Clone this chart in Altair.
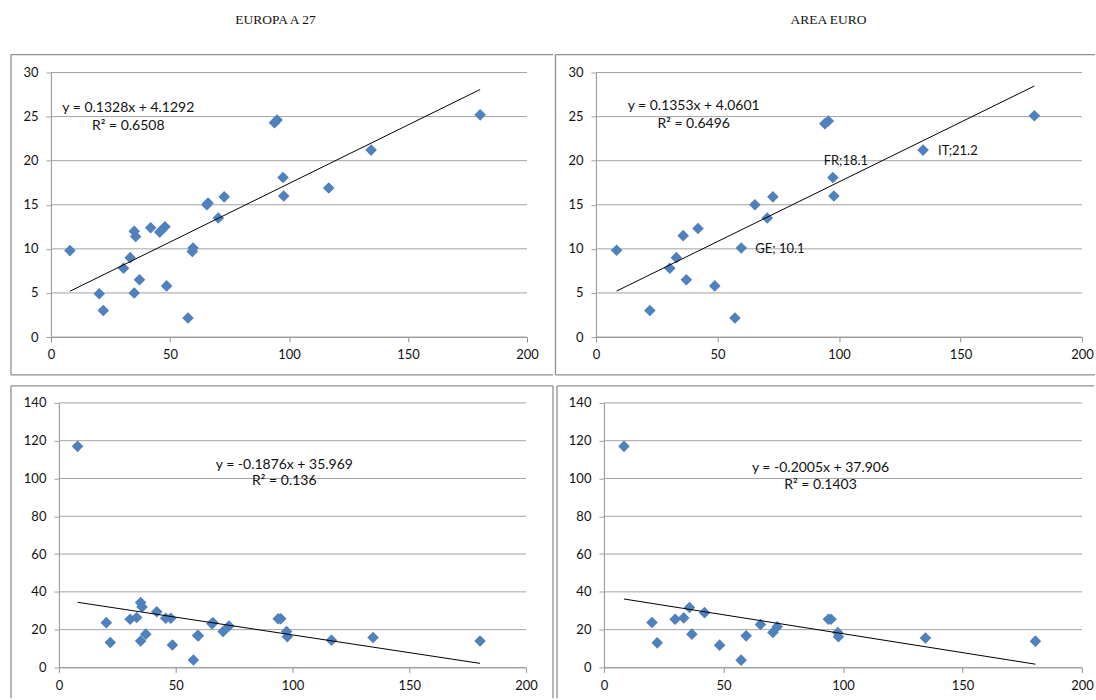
import altair as alt
import pandas as pd

# ---- EU-27: debt (x) against two indicators (y) ----
eu27_x = [8.0, 20.3, 22.0, 30.5, 33.3, 35.0, 35.6, 35.0, 37.2, 41.9, 45.7, 47.9, 48.6, 57.6,
          59.7, 59.4, 65.5, 66.0, 70.3, 72.8, 93.9, 95.0, 97.5, 97.8, 116.7, 134.5, 180.3]
eu27_top_y = [9.8, 4.9, 3.0, 7.8, 9.0, 12.0, 11.4, 5.0, 6.5, 12.4, 11.9, 12.5, 5.8, 2.15,
              10.1, 9.7, 15.0, 15.2, 13.5, 15.9, 24.3, 24.6, 18.1, 16.0, 16.9, 21.2, 25.2]
eu27_bot_y = [117.0, 23.7, 13.2, 25.5, 26.4, 34.3, 32.0, 14.0, 17.6, 29.5, 26.0, 26.0, 11.9, 3.9,
              16.7, 16.9, 23.2, 23.6, 19.0, 21.9, 25.8, 25.8, 19.0, 16.3, 14.4, 15.8, 14.0]

# ---- Euro area ----
ea_top_x = [8.5, 22.2, 30.4, 33.1, 35.9, 37.2, 42.0, 48.9, 57.2, 59.8, 65.4, 70.5, 72.8,
            94.2, 95.6, 97.5, 97.9, 134.6, 180.4]
ea_top_y = [9.85, 3.0, 7.8, 9.0, 11.5, 6.5, 12.3, 5.8, 2.15, 10.1, 15.0, 13.5, 15.9,
            24.2, 24.5, 18.1, 16.0, 21.2, 25.1]
ea_bot_x = [8.4, 20.1, 22.3, 29.8, 33.4, 35.8, 36.8, 42.1, 48.4, 57.4, 59.5, 65.5, 70.7, 72.5,
            93.9, 95.0, 97.8, 98.1, 134.5, 180.5]
ea_bot_y = [117.0, 23.8, 13.0, 25.5, 26.2, 31.7, 17.6, 29.0, 11.8, 3.85, 16.7, 22.7, 18.5, 21.5,
            25.5, 25.5, 18.5, 16.2, 15.6, 13.9]

# Linear trend lines (slope, intercept, R²) as printed on each panel
trend_eu27_top = (0.1328, 4.1292, 0.6508)
trend_ea_top = (0.1353, 4.0601, 0.6496)
trend_eu27_bot = (-0.1876, 35.969, 0.136)
trend_ea_bot = (-0.2005, 37.906, 0.1403)

# Country labels on the euro-area panel: (point index, prefix)
ea_top_labels = [(9, "GE; "), (15, "FR;"), (17, "IT;")]

titles = ["EUROPA A 27", "AREA EURO"]

BLUE = "#4F81BD"
GRID = "#a3a3a3"
FRAME = "#8f8f8f"
FONT = "Lato"


def frame_layer(left, top, right, bottom, sides):
    """Grey chart-area border drawn in pixel space around the plot."""
    one = alt.Data(values=[{"k": 0}])
    rule = dict(color=FRAME, strokeWidth=1.3)
    rules = []
    if "top" in sides:
        rules.append(alt.Chart(one).mark_rule(**rule).encode(
            x=alt.value(left), x2=alt.value(right), y=alt.value(top)))
    if "bottom" in sides:
        rules.append(alt.Chart(one).mark_rule(**rule).encode(
            x=alt.value(left), x2=alt.value(right), y=alt.value(bottom)))
    if "left" in sides:
        rules.append(alt.Chart(one).mark_rule(**rule).encode(
            x=alt.value(left), y=alt.value(top), y2=alt.value(bottom)))
    if "right" in sides:
        rules.append(alt.Chart(one).mark_rule(**rule).encode(
            x=alt.value(right), y=alt.value(top), y2=alt.value(bottom)))
    return rules


def panel(xs, ys, trend, y_max, y_step, width, height, eq_pos, frame, title=None,
          title_pos=None, labels=None, inset=0):
    slope, intercept, r2 = trend
    xsc = alt.Scale(domain=[0, 200], nice=False, zero=False, range=[inset, width])
    ysc = alt.Scale(domain=[0, y_max], nice=False)
    y_ticks = list(range(0, y_max + 1, y_step))
    xax = alt.Axis(values=[0, 50, 100, 150, 200], tickCount=10, title=None, grid=False,
                   tickSize=5, labelPadding=7, domainColor=FRAME, tickColor=FRAME,
                   labelFont=FONT, labelFontSize=13, labelColor="#111", labelFlush=False)
    yax = alt.Axis(values=y_ticks, tickCount=len(y_ticks) + 2, title=None, grid=False,
                   tickSize=5, labelPadding=8, domainColor=FRAME, tickColor=GRID,
                   labelFont=FONT, labelFontSize=13, labelColor="#111", offset=-inset)

    # horizontal gridlines spanning the x domain
    grid = alt.Chart(pd.DataFrame({"v": y_ticks})).mark_rule(
        color=GRID, strokeWidth=1).encode(
        y=alt.Y("v:Q", scale=ysc, axis=yax), x=alt.datum(0), x2=alt.datum(200))

    pts = pd.DataFrame({"x": xs, "y": ys})
    points = alt.Chart(pts).mark_point(shape="diamond", filled=True, size=135,
                                       color=BLUE, opacity=1).encode(
        x=alt.X("x:Q", scale=xsc, axis=xax),
        y=alt.Y("y:Q", scale=ysc, axis=yax),
    )

    ends = pd.DataFrame({"x": [min(xs), max(xs)]})
    line = alt.Chart(ends).transform_calculate(
        y=f"{slope} * datum.x + {intercept}"
    ).mark_line(color="black", strokeWidth=1).encode(
        x=alt.X("x:Q", scale=xsc), y=alt.Y("y:Q", scale=ysc))

    sign = "+" if intercept >= 0 else "-"
    eq_text = [f"y = {slope}x {sign} {abs(intercept)}", f"R² = {r2}"]
    one = alt.Data(values=[{"k": 0}])
    eqs = []
    for txt, yy in zip(eq_text, eq_pos[1]):
        eqs.append(alt.Chart(one).mark_text(font=FONT, fontSize=14, color="#111",
                                            align="center", baseline="middle").encode(
            x=alt.datum(eq_pos[0]), y=alt.datum(yy), text=alt.value(txt)))

    layers = [grid, points, line] + eqs

    if labels:
        for idx, prefix, align, dx, dy in labels:
            lab = pd.DataFrame({"x": [xs[idx]], "y": [ys[idx]],
                                "t": [f"{prefix}{ys[idx]}"]})
            layers.append(alt.Chart(lab).mark_text(
                font=FONT, fontSize=13, color="#111", align=align, baseline="middle",
                dx=dx, dy=dy).encode(x=alt.X("x:Q", scale=xsc), y=alt.Y("y:Q", scale=ysc),
                                     text="t:N"))

    if title:
        layers.append(alt.Chart(one).mark_text(
            font="Liberation Serif", fontSize=13.5, color="#111", align="center",
            baseline="middle").encode(x=alt.value(title_pos[0]), y=alt.value(title_pos[1]),
                                      text=alt.value(title)))

    layers += frame_layer(*frame)
    return alt.layer(*layers).properties(width=width, height=height)


tl = panel(eu27_x, eu27_top_y, trend_eu27_top, 30, 5, 477, 265,
           (32.5, [26.0, 23.95]), (-40, -18, 503, 303, ["top", "bottom", "left"]),
           title=titles[0], title_pos=(225, -53))

ea_lab = [(ea_top_labels[0][0], ea_top_labels[0][1], "left", 14, 1),
          (ea_top_labels[1][0], ea_top_labels[1][1], "center", 13, -16),
          (ea_top_labels[2][0], ea_top_labels[2][1], "left", 15, 1)]
tr = panel(ea_top_x, ea_top_y, trend_ea_top, 30, 5, 487, 265,
           (40.2, [26.2, 24.17]), (-40.5, -18, 500, 303, ["top", "bottom", "left"]),
           title=titles[1], title_pos=(233, -53), labels=ea_lab)

# the lower-left plot sits 8px further right than the one above it
bl = panel(eu27_x, eu27_bot_y, trend_eu27_bot, 140, 20, 476, 265,
           (96.5, [107.2, 98.4]), (-40, -17, 503, 296, ["top", "left", "right"]), inset=8)

br = panel(ea_bot_x, ea_bot_y, trend_ea_bot, 140, 20, 479, 265,
           (90.6, [105.6, 96.3]), (-47, -17, 491, 296, ["top", "left"]))

chart = alt.vconcat(
    alt.hconcat(tl, tr, spacing=0),
    alt.hconcat(bl, br, spacing=2),
    spacing=9,
).properties(
    padding={"left": 10, "top": 12, "right": 0, "bottom": 0},
    background="white",
).configure_view(stroke=None)

chart.save("out.html", embed_options={"renderer": "svg", "actions": False})
